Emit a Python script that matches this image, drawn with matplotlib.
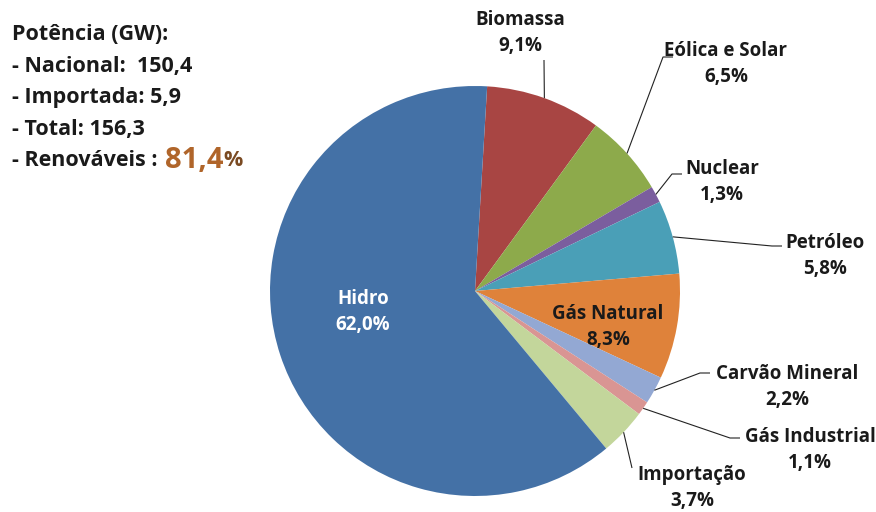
import numpy as np
import matplotlib.pyplot as plt

plt.rcParams['font.family'] = ['Open Sans', 'DejaVu Sans']

W, H = 876, 512

# ---- data ----
labels = ['Biomassa', 'Eólica e Solar', 'Nuclear', 'Petróleo', 'Gás Natural',
          'Carvão Mineral', 'Gás Industrial', 'Importação', 'Hidro']
values = [9.1, 6.5, 1.3, 5.8, 8.3, 2.2, 1.1, 3.7, 62.0]
pct_text = ['9,1%', '6,5%', '1,3%', '5,8%', '8,3%', '2,2%', '1,1%', '3,7%', '62,0%']
colors = ['#A84543', '#8DAA4B', '#7B5E9E', '#4A9FB7', '#DF823A',
          '#93A8D3', '#D99593', '#C3D69B', '#4471A6']

info_lines = ['Potência (GW):', '- Nacional:  150,4', '- Importada: 5,9', '- Total: 156,3']
renov_label = '- Renováveis : '
renov_value = '81,4'

# label layout in pixel coords: (text x, text y, elbow x, elbow y) ; None = inside
label_pos = {
    'Biomassa':       (520, 33, 544, 60),
    'Eólica e Solar': (726, 64, 663, 57),
    'Nuclear':        (722, 182, 672, 174),
    'Petróleo':       (825, 256, 772, 246),
    'Gás Natural':    (608, 327, None, None),
    'Carvão Mineral': (787, 387, 700, 373),
    'Gás Industrial': (810, 450, 730, 438),
    'Importação':     (692, 488, 632, 468),
    'Hidro':          (363, 312, None, None),
}

cx, cy, R = 475, 291, 205
start = 86.6

fig = plt.figure(figsize=(W / 100, H / 100), dpi=100)
ax = fig.add_axes([0, 0, 1, 1])

wedges, _ = ax.pie(values, colors=colors, startangle=start, counterclock=False,
                   center=(cx, H - cy), radius=R, frame=True,
                   wedgeprops=dict(linewidth=0))
ax.set_xlim(0, W)
ax.set_ylim(0, H)
ax.set_aspect('equal')
ax.axis('off')

for w, lab, pt in zip(wedges, labels, pct_text):
    tx, ty, ex, ey = label_pos[lab]
    tc = 'white' if lab == 'Hidro' else '#1a1a1a'
    ax.text(tx, H - ty, lab + '\n' + pt, ha='center', va='center',
            fontsize=13.5, fontweight='bold', color=tc, linespacing=1.4)
    if ex is None:
        continue
    mid = np.deg2rad((w.theta1 + w.theta2) / 2)
    px = cx + R * np.cos(mid)
    py = (H - cy) + R * np.sin(mid)
    if lab in ('Biomassa', 'Importação'):
        xs = [px, ex]
        ys = [py, H - ey]
    else:
        xs = [px, ex, ex + 10]
        ys = [py, H - ey, H - ey]
    ax.plot(xs, ys, color='#222222', lw=0.8, solid_capstyle='butt')

# ---- left info block ----
y0 = 35
for i, line in enumerate(info_lines):
    ax.text(12, H - (y0 + i * 31.5), line, ha='left', va='center',
            fontsize=15.5, fontweight='bold', color='#1a1a1a')
yr = y0 + 4 * 31.5
t1 = ax.text(12, H - yr, renov_label, ha='left', va='center',
             fontsize=15.5, fontweight='bold', color='#1a1a1a')
fig.canvas.draw()
x1 = ax.transData.inverted().transform(t1.get_window_extent().get_points())[1, 0]
t2 = ax.text(x1 + 2, H - yr + 1, renov_value, ha='left', va='center',
             fontsize=21, fontweight='bold', color='#B0652A')
fig.canvas.draw()
x2 = ax.transData.inverted().transform(t2.get_window_extent().get_points())[1, 0]
ax.text(x2, H - yr, '%', ha='left', va='center',
        fontsize=15.5, fontweight='bold', color='#7a4a22')

fig.savefig('out.png', dpi=100, facecolor='white')
